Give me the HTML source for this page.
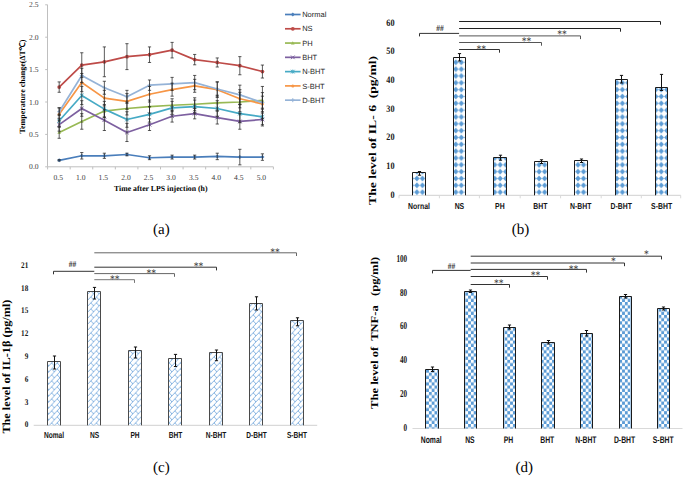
<!DOCTYPE html>
<html><head><meta charset="utf-8"><style>
html,body{margin:0;padding:0;background:#fff;}
svg{display:block;}
text{white-space:pre;text-rendering:geometricPrecision;}
</style></head><body>
<svg width="685" height="477" viewBox="0 0 685 477">
<defs>
<pattern id="pdia" patternUnits="userSpaceOnUse" x="-2.427" y="-2.6275" width="5.554" height="6.835">
<rect width="5.554" height="6.835" fill="#fff"/>
<path d="M0.1,3.4175L2.777,0.4L5.454,3.4175L2.777,6.435Z" fill="#5b9bd5"/>
</pattern>
<pattern id="pchk" patternUnits="userSpaceOnUse" x="3.3" y="0.3" width="5.6" height="6.42">
<rect width="5.6" height="6.42" fill="#fff"/>
<rect x="0" y="0" width="2.8" height="3.21" fill="#5b9bd5"/>
<rect x="2.8" y="3.21" width="2.8" height="3.21" fill="#5b9bd5"/>
</pattern>
<pattern id="pbrk" patternUnits="userSpaceOnUse" x="1.200" y="2.800" width="5.6" height="6.0">
<rect width="5.6" height="6.0" fill="#fff"/>
<path d="M-5.600,0.000L0.000,-6.000M-5.600,-6.000L-2.800,-3.000M-5.600,6.000L0.000,0.000M-5.600,0.000L-2.800,3.000M-5.600,12.000L0.000,6.000M-5.600,6.000L-2.800,9.000M0.000,0.000L5.600,-6.000M0.000,-6.000L2.800,-3.000M0.000,6.000L5.600,0.000M0.000,0.000L2.800,3.000M0.000,12.000L5.600,6.000M0.000,6.000L2.800,9.000M5.600,0.000L11.200,-6.000M5.600,-6.000L8.400,-3.000M5.600,6.000L11.200,0.000M5.600,0.000L8.400,3.000M5.600,12.000L11.200,6.000M5.600,6.000L8.400,9.000" stroke="#6fa5dc" stroke-width="0.85" fill="none"/>
</pattern>
</defs>
<rect width="685" height="477" fill="#fff"/>
<line x1="47.50" y1="4.80" x2="47.50" y2="166.80" stroke="#bfbfbf" stroke-width="1" />
<line x1="47.60" y1="166.80" x2="273.40" y2="166.80" stroke="#bfbfbf" stroke-width="1" />
<line x1="45.20" y1="166.80" x2="47.60" y2="166.80" stroke="#bfbfbf" stroke-width="1" />
<line x1="45.20" y1="134.40" x2="47.60" y2="134.40" stroke="#bfbfbf" stroke-width="1" />
<line x1="45.20" y1="102.00" x2="47.60" y2="102.00" stroke="#bfbfbf" stroke-width="1" />
<line x1="45.20" y1="69.60" x2="47.60" y2="69.60" stroke="#bfbfbf" stroke-width="1" />
<line x1="45.20" y1="37.20" x2="47.60" y2="37.20" stroke="#bfbfbf" stroke-width="1" />
<line x1="45.20" y1="4.80" x2="47.60" y2="4.80" stroke="#bfbfbf" stroke-width="1" />
<line x1="47.60" y1="166.80" x2="47.60" y2="169.40" stroke="#bfbfbf" stroke-width="1" />
<line x1="70.18" y1="166.80" x2="70.18" y2="169.40" stroke="#bfbfbf" stroke-width="1" />
<line x1="92.76" y1="166.80" x2="92.76" y2="169.40" stroke="#bfbfbf" stroke-width="1" />
<line x1="115.34" y1="166.80" x2="115.34" y2="169.40" stroke="#bfbfbf" stroke-width="1" />
<line x1="137.92" y1="166.80" x2="137.92" y2="169.40" stroke="#bfbfbf" stroke-width="1" />
<line x1="160.50" y1="166.80" x2="160.50" y2="169.40" stroke="#bfbfbf" stroke-width="1" />
<line x1="183.08" y1="166.80" x2="183.08" y2="169.40" stroke="#bfbfbf" stroke-width="1" />
<line x1="205.66" y1="166.80" x2="205.66" y2="169.40" stroke="#bfbfbf" stroke-width="1" />
<line x1="228.24" y1="166.80" x2="228.24" y2="169.40" stroke="#bfbfbf" stroke-width="1" />
<line x1="250.82" y1="166.80" x2="250.82" y2="169.40" stroke="#bfbfbf" stroke-width="1" />
<line x1="273.40" y1="166.80" x2="273.40" y2="169.40" stroke="#bfbfbf" stroke-width="1" />
<text transform="translate(38.60,169.30)" font-family='"Liberation Serif", serif' font-size="7.6" font-weight="normal" text-anchor="end" fill="#404040" >0.0</text>
<text transform="translate(38.60,136.90)" font-family='"Liberation Serif", serif' font-size="7.6" font-weight="normal" text-anchor="end" fill="#404040" >0.5</text>
<text transform="translate(38.60,104.50)" font-family='"Liberation Serif", serif' font-size="7.6" font-weight="normal" text-anchor="end" fill="#404040" >1.0</text>
<text transform="translate(38.60,72.10)" font-family='"Liberation Serif", serif' font-size="7.6" font-weight="normal" text-anchor="end" fill="#404040" >1.5</text>
<text transform="translate(38.60,39.70)" font-family='"Liberation Serif", serif' font-size="7.6" font-weight="normal" text-anchor="end" fill="#404040" >2.0</text>
<text transform="translate(38.60,7.30)" font-family='"Liberation Serif", serif' font-size="7.6" font-weight="normal" text-anchor="end" fill="#404040" >2.5</text>
<text transform="translate(58.20,179.60)" font-family='"Liberation Serif", serif' font-size="7.6" font-weight="normal" text-anchor="middle" fill="#404040" >0.5</text>
<text transform="translate(80.78,179.60)" font-family='"Liberation Serif", serif' font-size="7.6" font-weight="normal" text-anchor="middle" fill="#404040" >1.0</text>
<text transform="translate(103.36,179.60)" font-family='"Liberation Serif", serif' font-size="7.6" font-weight="normal" text-anchor="middle" fill="#404040" >1.5</text>
<text transform="translate(125.94,179.60)" font-family='"Liberation Serif", serif' font-size="7.6" font-weight="normal" text-anchor="middle" fill="#404040" >2.0</text>
<text transform="translate(148.52,179.60)" font-family='"Liberation Serif", serif' font-size="7.6" font-weight="normal" text-anchor="middle" fill="#404040" >2.5</text>
<text transform="translate(171.10,179.60)" font-family='"Liberation Serif", serif' font-size="7.6" font-weight="normal" text-anchor="middle" fill="#404040" >3.0</text>
<text transform="translate(193.68,179.60)" font-family='"Liberation Serif", serif' font-size="7.6" font-weight="normal" text-anchor="middle" fill="#404040" >3.5</text>
<text transform="translate(216.26,179.60)" font-family='"Liberation Serif", serif' font-size="7.6" font-weight="normal" text-anchor="middle" fill="#404040" >4.0</text>
<text transform="translate(238.84,179.60)" font-family='"Liberation Serif", serif' font-size="7.6" font-weight="normal" text-anchor="middle" fill="#404040" >4.5</text>
<text transform="translate(261.42,179.60)" font-family='"Liberation Serif", serif' font-size="7.6" font-weight="normal" text-anchor="middle" fill="#404040" >5.0</text>
<text transform="translate(160.75,191.40)" font-family='"Liberation Serif", serif' font-size="7.8" font-weight="bold" text-anchor="middle" fill="#000" textLength="93.5" lengthAdjust="spacingAndGlyphs">Time after LPS injection (h)</text>
<text transform="translate(24.60,86.60) rotate(-90)" font-family='"Liberation Serif", serif' font-size="8.0" font-weight="bold" text-anchor="middle" fill="#000" textLength="94" lengthAdjust="spacingAndGlyphs">Temperature change(ΔT℃)</text>
<polyline points="59.20,160.32 81.78,155.78 104.36,155.78 126.94,154.49 149.52,157.73 172.10,157.08 194.68,157.08 217.26,156.43 239.84,157.08 262.42,157.08" fill="none" stroke="#4a7ebb" stroke-width="1.7" stroke-linejoin="round"/>
<path d="M57.20,160.32L59.20,158.32L61.20,160.32L59.20,162.32Z" fill="#4a7ebb"/>
<path d="M79.78,155.78L81.78,153.78L83.78,155.78L81.78,157.78Z" fill="#4a7ebb"/>
<path d="M102.36,155.78L104.36,153.78L106.36,155.78L104.36,157.78Z" fill="#4a7ebb"/>
<path d="M124.94,154.49L126.94,152.49L128.94,154.49L126.94,156.49Z" fill="#4a7ebb"/>
<path d="M147.52,157.73L149.52,155.73L151.52,157.73L149.52,159.73Z" fill="#4a7ebb"/>
<path d="M170.10,157.08L172.10,155.08L174.10,157.08L172.10,159.08Z" fill="#4a7ebb"/>
<path d="M192.68,157.08L194.68,155.08L196.68,157.08L194.68,159.08Z" fill="#4a7ebb"/>
<path d="M215.26,156.43L217.26,154.43L219.26,156.43L217.26,158.43Z" fill="#4a7ebb"/>
<path d="M237.84,157.08L239.84,155.08L241.84,157.08L239.84,159.08Z" fill="#4a7ebb"/>
<path d="M260.42,157.08L262.42,155.08L264.42,157.08L262.42,159.08Z" fill="#4a7ebb"/>
<polyline points="59.20,87.10 81.78,65.06 104.36,61.82 126.94,56.64 149.52,54.70 172.10,50.16 194.68,59.62 217.26,62.47 239.84,65.71 262.42,71.54" fill="none" stroke="#be4b48" stroke-width="1.7" stroke-linejoin="round"/>
<circle cx="59.20" cy="87.10" r="1.9" fill="#be4b48"/>
<circle cx="81.78" cy="65.06" r="1.9" fill="#be4b48"/>
<circle cx="104.36" cy="61.82" r="1.9" fill="#be4b48"/>
<circle cx="126.94" cy="56.64" r="1.9" fill="#be4b48"/>
<circle cx="149.52" cy="54.70" r="1.9" fill="#be4b48"/>
<circle cx="172.10" cy="50.16" r="1.9" fill="#be4b48"/>
<circle cx="194.68" cy="59.62" r="1.9" fill="#be4b48"/>
<circle cx="217.26" cy="62.47" r="1.9" fill="#be4b48"/>
<circle cx="239.84" cy="65.71" r="1.9" fill="#be4b48"/>
<circle cx="262.42" cy="71.54" r="1.9" fill="#be4b48"/>
<polyline points="59.20,132.46 81.78,121.44 104.36,111.07 126.94,108.48 149.52,106.54 172.10,105.24 194.68,104.27 217.26,102.97 239.84,102.00 262.42,100.38" fill="none" stroke="#98b954" stroke-width="1.7" stroke-linejoin="round"/>
<path d="M57.40,133.86L59.20,130.66L61.00,133.86Z" fill="#98b954"/>
<path d="M79.98,122.84L81.78,119.64L83.58,122.84Z" fill="#98b954"/>
<path d="M102.56,112.47L104.36,109.27L106.16,112.47Z" fill="#98b954"/>
<path d="M125.14,109.88L126.94,106.68L128.74,109.88Z" fill="#98b954"/>
<path d="M147.72,107.94L149.52,104.74L151.32,107.94Z" fill="#98b954"/>
<path d="M170.30,106.64L172.10,103.44L173.90,106.64Z" fill="#98b954"/>
<path d="M192.88,105.67L194.68,102.47L196.48,105.67Z" fill="#98b954"/>
<path d="M215.46,104.37L217.26,101.17L219.06,104.37Z" fill="#98b954"/>
<path d="M238.04,103.40L239.84,100.20L241.64,103.40Z" fill="#98b954"/>
<path d="M260.62,101.78L262.42,98.58L264.22,101.78Z" fill="#98b954"/>
<polyline points="59.20,124.68 81.78,108.48 104.36,120.14 126.94,132.46 149.52,124.68 172.10,116.26 194.68,113.66 217.26,117.55 239.84,121.44 262.42,119.50" fill="none" stroke="#7d60a0" stroke-width="1.7" stroke-linejoin="round"/>
<path d="M57.40,122.88L61.00,126.48M57.40,126.48L61.00,122.88" stroke="#7d60a0" stroke-width="1"/>
<path d="M79.98,106.68L83.58,110.28M79.98,110.28L83.58,106.68" stroke="#7d60a0" stroke-width="1"/>
<path d="M102.56,118.34L106.16,121.94M102.56,121.94L106.16,118.34" stroke="#7d60a0" stroke-width="1"/>
<path d="M125.14,130.66L128.74,134.26M125.14,134.26L128.74,130.66" stroke="#7d60a0" stroke-width="1"/>
<path d="M147.72,122.88L151.32,126.48M147.72,126.48L151.32,122.88" stroke="#7d60a0" stroke-width="1"/>
<path d="M170.30,114.46L173.90,118.06M170.30,118.06L173.90,114.46" stroke="#7d60a0" stroke-width="1"/>
<path d="M192.88,111.86L196.48,115.46M192.88,115.46L196.48,111.86" stroke="#7d60a0" stroke-width="1"/>
<path d="M215.46,115.75L219.06,119.35M215.46,119.35L219.06,115.75" stroke="#7d60a0" stroke-width="1"/>
<path d="M238.04,119.64L241.64,123.24M238.04,123.24L241.64,119.64" stroke="#7d60a0" stroke-width="1"/>
<path d="M260.62,117.70L264.22,121.30M260.62,121.30L264.22,117.70" stroke="#7d60a0" stroke-width="1"/>
<polyline points="59.20,120.79 81.78,95.52 104.36,109.13 126.94,119.50 149.52,114.31 172.10,107.83 194.68,106.54 217.26,108.48 239.84,113.66 262.42,116.90" fill="none" stroke="#46aac5" stroke-width="1.7" stroke-linejoin="round"/>
<path d="M57.40,118.99L61.00,122.59M57.40,122.59L61.00,118.99M59.20,118.79L59.20,122.79" stroke="#46aac5" stroke-width="1"/>
<path d="M79.98,93.72L83.58,97.32M79.98,97.32L83.58,93.72M81.78,93.52L81.78,97.52" stroke="#46aac5" stroke-width="1"/>
<path d="M102.56,107.33L106.16,110.93M102.56,110.93L106.16,107.33M104.36,107.13L104.36,111.13" stroke="#46aac5" stroke-width="1"/>
<path d="M125.14,117.70L128.74,121.30M125.14,121.30L128.74,117.70M126.94,117.50L126.94,121.50" stroke="#46aac5" stroke-width="1"/>
<path d="M147.72,112.51L151.32,116.11M147.72,116.11L151.32,112.51M149.52,112.31L149.52,116.31" stroke="#46aac5" stroke-width="1"/>
<path d="M170.30,106.03L173.90,109.63M170.30,109.63L173.90,106.03M172.10,105.83L172.10,109.83" stroke="#46aac5" stroke-width="1"/>
<path d="M192.88,104.74L196.48,108.34M192.88,108.34L196.48,104.74M194.68,104.54L194.68,108.54" stroke="#46aac5" stroke-width="1"/>
<path d="M215.46,106.68L219.06,110.28M215.46,110.28L219.06,106.68M217.26,106.48L217.26,110.48" stroke="#46aac5" stroke-width="1"/>
<path d="M238.04,111.86L241.64,115.46M238.04,115.46L241.64,111.86M239.84,111.66L239.84,115.66" stroke="#46aac5" stroke-width="1"/>
<path d="M260.62,115.10L264.22,118.70M260.62,118.70L264.22,115.10M262.42,114.90L262.42,118.90" stroke="#46aac5" stroke-width="1"/>
<polyline points="59.20,114.31 81.78,82.56 104.36,98.11 126.94,101.35 149.52,94.22 172.10,89.69 194.68,85.80 217.26,89.69 239.84,98.76 262.42,103.94" fill="none" stroke="#f79646" stroke-width="1.7" stroke-linejoin="round"/>
<circle cx="59.20" cy="114.31" r="1.5" fill="#f79646"/>
<circle cx="81.78" cy="82.56" r="1.5" fill="#f79646"/>
<circle cx="104.36" cy="98.11" r="1.5" fill="#f79646"/>
<circle cx="126.94" cy="101.35" r="1.5" fill="#f79646"/>
<circle cx="149.52" cy="94.22" r="1.5" fill="#f79646"/>
<circle cx="172.10" cy="89.69" r="1.5" fill="#f79646"/>
<circle cx="194.68" cy="85.80" r="1.5" fill="#f79646"/>
<circle cx="217.26" cy="89.69" r="1.5" fill="#f79646"/>
<circle cx="239.84" cy="98.76" r="1.5" fill="#f79646"/>
<circle cx="262.42" cy="103.94" r="1.5" fill="#f79646"/>
<polyline points="59.20,111.72 81.78,75.43 104.36,87.74 126.94,96.82 149.52,85.15 172.10,83.86 194.68,82.56 217.26,89.04 239.84,94.87 262.42,102.65" fill="none" stroke="#95b3d7" stroke-width="1.7" stroke-linejoin="round"/>
<path d="M57.20,111.72L61.20,111.72M59.20,109.72L59.20,113.72" stroke="#95b3d7" stroke-width="1"/>
<path d="M79.78,75.43L83.78,75.43M81.78,73.43L81.78,77.43" stroke="#95b3d7" stroke-width="1"/>
<path d="M102.36,87.74L106.36,87.74M104.36,85.74L104.36,89.74" stroke="#95b3d7" stroke-width="1"/>
<path d="M124.94,96.82L128.94,96.82M126.94,94.82L126.94,98.82" stroke="#95b3d7" stroke-width="1"/>
<path d="M147.52,85.15L151.52,85.15M149.52,83.15L149.52,87.15" stroke="#95b3d7" stroke-width="1"/>
<path d="M170.10,83.86L174.10,83.86M172.10,81.86L172.10,85.86" stroke="#95b3d7" stroke-width="1"/>
<path d="M192.68,82.56L196.68,82.56M194.68,80.56L194.68,84.56" stroke="#95b3d7" stroke-width="1"/>
<path d="M215.26,89.04L219.26,89.04M217.26,87.04L217.26,91.04" stroke="#95b3d7" stroke-width="1"/>
<path d="M237.84,94.87L241.84,94.87M239.84,92.87L239.84,96.87" stroke="#95b3d7" stroke-width="1"/>
<path d="M260.42,102.65L264.42,102.65M262.42,100.65L262.42,104.65" stroke="#95b3d7" stroke-width="1"/>
<path d="M59.20,159.67V160.97M57.60,159.67H60.80M57.60,160.97H60.80" stroke="#262626" stroke-width="0.75" fill="none"/>
<path d="M81.78,152.54V159.02M80.18,152.54H83.38M80.18,159.02H83.38" stroke="#262626" stroke-width="0.75" fill="none"/>
<path d="M104.36,153.19V158.38M102.76,153.19H105.96M102.76,158.38H105.96" stroke="#262626" stroke-width="0.75" fill="none"/>
<path d="M126.94,153.19V155.78M125.34,153.19H128.54M125.34,155.78H128.54" stroke="#262626" stroke-width="0.75" fill="none"/>
<path d="M149.52,155.78V159.67M147.92,155.78H151.12M147.92,159.67H151.12" stroke="#262626" stroke-width="0.75" fill="none"/>
<path d="M172.10,155.14V159.02M170.50,155.14H173.70M170.50,159.02H173.70" stroke="#262626" stroke-width="0.75" fill="none"/>
<path d="M194.68,155.14V159.02M193.08,155.14H196.28M193.08,159.02H196.28" stroke="#262626" stroke-width="0.75" fill="none"/>
<path d="M217.26,153.19V159.67M215.66,153.19H218.86M215.66,159.67H218.86" stroke="#262626" stroke-width="0.75" fill="none"/>
<path d="M239.84,149.30V164.86M238.24,149.30H241.44M238.24,164.86H241.44" stroke="#262626" stroke-width="0.75" fill="none"/>
<path d="M262.42,153.84V160.32M260.82,153.84H264.02M260.82,160.32H264.02" stroke="#262626" stroke-width="0.75" fill="none"/>
<path d="M59.20,81.91V92.28M57.60,81.91H60.80M57.60,92.28H60.80" stroke="#262626" stroke-width="0.75" fill="none"/>
<path d="M81.78,52.75V77.38M80.18,52.75H83.38M80.18,77.38H83.38" stroke="#262626" stroke-width="0.75" fill="none"/>
<path d="M104.36,46.92V76.73M102.76,46.92H105.96M102.76,76.73H105.96" stroke="#262626" stroke-width="0.75" fill="none"/>
<path d="M126.94,43.68V69.60M125.34,43.68H128.54M125.34,69.60H128.54" stroke="#262626" stroke-width="0.75" fill="none"/>
<path d="M149.52,46.92V62.47M147.92,46.92H151.12M147.92,62.47H151.12" stroke="#262626" stroke-width="0.75" fill="none"/>
<path d="M172.10,42.38V57.94M170.50,42.38H173.70M170.50,57.94H173.70" stroke="#262626" stroke-width="0.75" fill="none"/>
<path d="M194.68,54.44V64.80M193.08,54.44H196.28M193.08,64.80H196.28" stroke="#262626" stroke-width="0.75" fill="none"/>
<path d="M217.26,57.94V67.01M215.66,57.94H218.86M215.66,67.01H218.86" stroke="#262626" stroke-width="0.75" fill="none"/>
<path d="M239.84,56.64V74.78M238.24,56.64H241.44M238.24,74.78H241.44" stroke="#262626" stroke-width="0.75" fill="none"/>
<path d="M262.42,65.06V78.02M260.82,65.06H264.02M260.82,78.02H264.02" stroke="#262626" stroke-width="0.75" fill="none"/>
<path d="M59.20,126.62V138.29M57.60,126.62H60.80M57.60,138.29H60.80" stroke="#262626" stroke-width="0.75" fill="none"/>
<path d="M81.78,113.66V129.22M80.18,113.66H83.38M80.18,129.22H83.38" stroke="#262626" stroke-width="0.75" fill="none"/>
<path d="M104.36,104.59V117.55M102.76,104.59H105.96M102.76,117.55H105.96" stroke="#262626" stroke-width="0.75" fill="none"/>
<path d="M126.94,102.00V114.96M125.34,102.00H128.54M125.34,114.96H128.54" stroke="#262626" stroke-width="0.75" fill="none"/>
<path d="M149.52,100.06V113.02M147.92,100.06H151.12M147.92,113.02H151.12" stroke="#262626" stroke-width="0.75" fill="none"/>
<path d="M172.10,98.76V111.72M170.50,98.76H173.70M170.50,111.72H173.70" stroke="#262626" stroke-width="0.75" fill="none"/>
<path d="M194.68,97.79V110.75M193.08,97.79H196.28M193.08,110.75H196.28" stroke="#262626" stroke-width="0.75" fill="none"/>
<path d="M217.26,95.20V110.75M215.66,95.20H218.86M215.66,110.75H218.86" stroke="#262626" stroke-width="0.75" fill="none"/>
<path d="M239.84,92.28V111.72M238.24,92.28H241.44M238.24,111.72H241.44" stroke="#262626" stroke-width="0.75" fill="none"/>
<path d="M262.42,92.60V108.16M260.82,92.60H264.02M260.82,108.16H264.02" stroke="#262626" stroke-width="0.75" fill="none"/>
<path d="M59.20,118.20V131.16M57.60,118.20H60.80M57.60,131.16H60.80" stroke="#262626" stroke-width="0.75" fill="none"/>
<path d="M81.78,100.70V116.26M80.18,100.70H83.38M80.18,116.26H83.38" stroke="#262626" stroke-width="0.75" fill="none"/>
<path d="M104.36,109.78V130.51M102.76,109.78H105.96M102.76,130.51H105.96" stroke="#262626" stroke-width="0.75" fill="none"/>
<path d="M126.94,123.38V141.53M125.34,123.38H128.54M125.34,141.53H128.54" stroke="#262626" stroke-width="0.75" fill="none"/>
<path d="M149.52,118.85V130.51M147.92,118.85H151.12M147.92,130.51H151.12" stroke="#262626" stroke-width="0.75" fill="none"/>
<path d="M172.10,110.42V122.09M170.50,110.42H173.70M170.50,122.09H173.70" stroke="#262626" stroke-width="0.75" fill="none"/>
<path d="M194.68,108.48V118.85M193.08,108.48H196.28M193.08,118.85H196.28" stroke="#262626" stroke-width="0.75" fill="none"/>
<path d="M217.26,111.07V124.03M215.66,111.07H218.86M215.66,124.03H218.86" stroke="#262626" stroke-width="0.75" fill="none"/>
<path d="M239.84,113.66V129.22M238.24,113.66H241.44M238.24,129.22H241.44" stroke="#262626" stroke-width="0.75" fill="none"/>
<path d="M262.42,113.02V125.98M260.82,113.02H264.02M260.82,125.98H264.02" stroke="#262626" stroke-width="0.75" fill="none"/>
<path d="M59.20,114.31V127.27M57.60,114.31H60.80M57.60,127.27H60.80" stroke="#262626" stroke-width="0.75" fill="none"/>
<path d="M81.78,86.45V104.59M80.18,86.45H83.38M80.18,104.59H83.38" stroke="#262626" stroke-width="0.75" fill="none"/>
<path d="M104.36,101.35V116.90M102.76,101.35H105.96M102.76,116.90H105.96" stroke="#262626" stroke-width="0.75" fill="none"/>
<path d="M126.94,111.72V127.27M125.34,111.72H128.54M125.34,127.27H128.54" stroke="#262626" stroke-width="0.75" fill="none"/>
<path d="M149.52,106.54V122.09M147.92,106.54H151.12M147.92,122.09H151.12" stroke="#262626" stroke-width="0.75" fill="none"/>
<path d="M172.10,101.35V114.31M170.50,101.35H173.70M170.50,114.31H173.70" stroke="#262626" stroke-width="0.75" fill="none"/>
<path d="M194.68,100.06V113.02M193.08,100.06H196.28M193.08,113.02H196.28" stroke="#262626" stroke-width="0.75" fill="none"/>
<path d="M217.26,100.70V116.26M215.66,100.70H218.86M215.66,116.26H218.86" stroke="#262626" stroke-width="0.75" fill="none"/>
<path d="M239.84,104.59V122.74M238.24,104.59H241.44M238.24,122.74H241.44" stroke="#262626" stroke-width="0.75" fill="none"/>
<path d="M262.42,109.13V124.68M260.82,109.13H264.02M260.82,124.68H264.02" stroke="#262626" stroke-width="0.75" fill="none"/>
<path d="M59.20,107.83V120.79M57.60,107.83H60.80M57.60,120.79H60.80" stroke="#262626" stroke-width="0.75" fill="none"/>
<path d="M81.78,73.49V91.63M80.18,73.49H83.38M80.18,91.63H83.38" stroke="#262626" stroke-width="0.75" fill="none"/>
<path d="M104.36,90.34V105.89M102.76,90.34H105.96M102.76,105.89H105.96" stroke="#262626" stroke-width="0.75" fill="none"/>
<path d="M126.94,93.58V109.13M125.34,93.58H128.54M125.34,109.13H128.54" stroke="#262626" stroke-width="0.75" fill="none"/>
<path d="M149.52,86.45V102.00M147.92,86.45H151.12M147.92,102.00H151.12" stroke="#262626" stroke-width="0.75" fill="none"/>
<path d="M172.10,83.21V96.17M170.50,83.21H173.70M170.50,96.17H173.70" stroke="#262626" stroke-width="0.75" fill="none"/>
<path d="M194.68,79.32V92.28M193.08,79.32H196.28M193.08,92.28H196.28" stroke="#262626" stroke-width="0.75" fill="none"/>
<path d="M217.26,81.91V97.46M215.66,81.91H218.86M215.66,97.46H218.86" stroke="#262626" stroke-width="0.75" fill="none"/>
<path d="M239.84,89.69V107.83M238.24,89.69H241.44M238.24,107.83H241.44" stroke="#262626" stroke-width="0.75" fill="none"/>
<path d="M262.42,96.17V111.72M260.82,96.17H264.02M260.82,111.72H264.02" stroke="#262626" stroke-width="0.75" fill="none"/>
<path d="M59.20,107.83V115.61M57.60,107.83H60.80M57.60,115.61H60.80" stroke="#262626" stroke-width="0.75" fill="none"/>
<path d="M81.78,68.30V82.56M80.18,68.30H83.38M80.18,82.56H83.38" stroke="#262626" stroke-width="0.75" fill="none"/>
<path d="M104.36,81.26V94.22M102.76,81.26H105.96M102.76,94.22H105.96" stroke="#262626" stroke-width="0.75" fill="none"/>
<path d="M126.94,90.34V103.30M125.34,90.34H128.54M125.34,103.30H128.54" stroke="#262626" stroke-width="0.75" fill="none"/>
<path d="M149.52,79.97V90.34M147.92,79.97H151.12M147.92,90.34H151.12" stroke="#262626" stroke-width="0.75" fill="none"/>
<path d="M172.10,77.38V90.34M170.50,77.38H173.70M170.50,90.34H173.70" stroke="#262626" stroke-width="0.75" fill="none"/>
<path d="M194.68,75.43V89.69M193.08,75.43H196.28M193.08,89.69H196.28" stroke="#262626" stroke-width="0.75" fill="none"/>
<path d="M217.26,81.91V96.17M215.66,81.91H218.86M215.66,96.17H218.86" stroke="#262626" stroke-width="0.75" fill="none"/>
<path d="M239.84,85.15V104.59M238.24,85.15H241.44M238.24,104.59H241.44" stroke="#262626" stroke-width="0.75" fill="none"/>
<path d="M262.42,86.45V118.85M260.82,86.45H264.02M260.82,118.85H264.02" stroke="#262626" stroke-width="0.75" fill="none"/>
<line x1="285.00" y1="14.50" x2="300.60" y2="14.50" stroke="#4a7ebb" stroke-width="1.7" />
<path d="M290.80,14.50L292.80,12.50L294.80,14.50L292.80,16.50Z" fill="#4a7ebb"/>
<text transform="translate(302.20,17.20)" font-family='"Liberation Sans", sans-serif' font-size="7.5" font-weight="normal" text-anchor="start" fill="#262626" >Normal</text>
<line x1="285.00" y1="28.78" x2="300.60" y2="28.78" stroke="#be4b48" stroke-width="1.7" />
<circle cx="292.80" cy="28.78" r="1.9" fill="#be4b48"/>
<text transform="translate(302.20,31.48)" font-family='"Liberation Sans", sans-serif' font-size="7.5" font-weight="normal" text-anchor="start" fill="#262626" >NS</text>
<line x1="285.00" y1="43.06" x2="300.60" y2="43.06" stroke="#98b954" stroke-width="1.7" />
<path d="M291.00,44.46L292.80,41.26L294.60,44.46Z" fill="#98b954"/>
<text transform="translate(302.20,45.76)" font-family='"Liberation Sans", sans-serif' font-size="7.5" font-weight="normal" text-anchor="start" fill="#262626" >PH</text>
<line x1="285.00" y1="57.34" x2="300.60" y2="57.34" stroke="#7d60a0" stroke-width="1.7" />
<path d="M291.00,55.54L294.60,59.14M291.00,59.14L294.60,55.54" stroke="#7d60a0" stroke-width="1"/>
<text transform="translate(302.20,60.04)" font-family='"Liberation Sans", sans-serif' font-size="7.5" font-weight="normal" text-anchor="start" fill="#262626" >BHT</text>
<line x1="285.00" y1="71.62" x2="300.60" y2="71.62" stroke="#46aac5" stroke-width="1.7" />
<path d="M291.00,69.82L294.60,73.42M291.00,73.42L294.60,69.82M292.80,69.62L292.80,73.62" stroke="#46aac5" stroke-width="1"/>
<text transform="translate(302.20,74.32)" font-family='"Liberation Sans", sans-serif' font-size="7.5" font-weight="normal" text-anchor="start" fill="#262626" >N-BHT</text>
<line x1="285.00" y1="85.90" x2="300.60" y2="85.90" stroke="#f79646" stroke-width="1.7" />
<circle cx="292.80" cy="85.90" r="1.5" fill="#f79646"/>
<text transform="translate(302.20,88.60)" font-family='"Liberation Sans", sans-serif' font-size="7.5" font-weight="normal" text-anchor="start" fill="#262626" >S-BHT</text>
<line x1="285.00" y1="100.18" x2="300.60" y2="100.18" stroke="#95b3d7" stroke-width="1.7" />
<path d="M290.80,100.18L294.80,100.18M292.80,98.18L292.80,102.18" stroke="#95b3d7" stroke-width="1"/>
<text transform="translate(302.20,102.88)" font-family='"Liberation Sans", sans-serif' font-size="7.5" font-weight="normal" text-anchor="start" fill="#262626" >D-BHT</text>
<text transform="translate(161.40,233.50)" font-family='"Liberation Serif", serif' font-size="15" font-weight="normal" text-anchor="middle" fill="#000" >(a)</text>
<line x1="399.00" y1="195.30" x2="680.70" y2="195.30" stroke="#d9d9d9" stroke-width="1.2" />
<line x1="399.00" y1="195.30" x2="399.00" y2="198.30" stroke="#d9d9d9" stroke-width="1" />
<line x1="439.40" y1="195.30" x2="439.40" y2="198.30" stroke="#d9d9d9" stroke-width="1" />
<line x1="479.40" y1="195.30" x2="479.40" y2="198.30" stroke="#d9d9d9" stroke-width="1" />
<line x1="520.20" y1="195.30" x2="520.20" y2="198.30" stroke="#d9d9d9" stroke-width="1" />
<line x1="560.60" y1="195.30" x2="560.60" y2="198.30" stroke="#d9d9d9" stroke-width="1" />
<line x1="601.20" y1="195.30" x2="601.20" y2="198.30" stroke="#d9d9d9" stroke-width="1" />
<line x1="641.30" y1="195.30" x2="641.30" y2="198.30" stroke="#d9d9d9" stroke-width="1" />
<line x1="680.70" y1="195.30" x2="680.70" y2="198.30" stroke="#d9d9d9" stroke-width="1" />
<text transform="translate(394.50,197.78) scale(0.840,1)" font-family='"Liberation Serif", serif' font-size="9.8" font-weight="bold" text-anchor="end" fill="#1a1a1a" >0</text>
<text transform="translate(394.50,169.08) scale(0.840,1)" font-family='"Liberation Serif", serif' font-size="9.8" font-weight="bold" text-anchor="end" fill="#1a1a1a" >10</text>
<text transform="translate(394.50,140.38) scale(0.840,1)" font-family='"Liberation Serif", serif' font-size="9.8" font-weight="bold" text-anchor="end" fill="#1a1a1a" >20</text>
<text transform="translate(394.50,111.68) scale(0.840,1)" font-family='"Liberation Serif", serif' font-size="9.8" font-weight="bold" text-anchor="end" fill="#1a1a1a" >30</text>
<text transform="translate(394.50,82.98) scale(0.840,1)" font-family='"Liberation Serif", serif' font-size="9.8" font-weight="bold" text-anchor="end" fill="#1a1a1a" >40</text>
<text transform="translate(394.50,54.28) scale(0.840,1)" font-family='"Liberation Serif", serif' font-size="9.8" font-weight="bold" text-anchor="end" fill="#1a1a1a" >50</text>
<text transform="translate(394.50,25.58) scale(0.840,1)" font-family='"Liberation Serif", serif' font-size="9.8" font-weight="bold" text-anchor="end" fill="#1a1a1a" >60</text>
<rect x="412.50" y="172.50" width="13.00" height="22.80" fill="url(#pdia)"/>
<path d="M412.50,195.30V172.50H425.50V195.30" fill="none" stroke="#1a1a1a" stroke-width="1"/>
<rect x="453.50" y="57.50" width="12.00" height="137.80" fill="url(#pdia)"/>
<path d="M453.50,195.30V57.50H465.50V195.30" fill="none" stroke="#1a1a1a" stroke-width="1"/>
<rect x="493.50" y="157.50" width="13.00" height="37.80" fill="url(#pdia)"/>
<path d="M493.50,195.30V157.50H506.50V195.30" fill="none" stroke="#1a1a1a" stroke-width="1"/>
<rect x="534.50" y="161.50" width="13.00" height="33.80" fill="url(#pdia)"/>
<path d="M534.50,195.30V161.50H547.50V195.30" fill="none" stroke="#1a1a1a" stroke-width="1"/>
<rect x="574.50" y="160.50" width="13.00" height="34.80" fill="url(#pdia)"/>
<path d="M574.50,195.30V160.50H587.50V195.30" fill="none" stroke="#1a1a1a" stroke-width="1"/>
<rect x="615.50" y="79.50" width="12.00" height="115.80" fill="url(#pdia)"/>
<path d="M615.50,195.30V79.50H627.50V195.30" fill="none" stroke="#1a1a1a" stroke-width="1"/>
<rect x="655.50" y="87.50" width="12.00" height="107.80" fill="url(#pdia)"/>
<path d="M655.50,195.30V87.50H667.50V195.30" fill="none" stroke="#1a1a1a" stroke-width="1"/>
<path d="M419.50,171.50V175.20M417.90,171.50H421.10M417.90,175.20H421.10" stroke="#111" stroke-width="1" fill="none"/>
<path d="M459.50,53.60V61.00M457.90,53.60H461.10M457.90,61.00H461.10" stroke="#111" stroke-width="1" fill="none"/>
<path d="M500.50,155.20V160.20M498.90,155.20H502.10M498.90,160.20H502.10" stroke="#111" stroke-width="1" fill="none"/>
<path d="M541.50,159.80V163.50M539.90,159.80H543.10M539.90,163.50H543.10" stroke="#111" stroke-width="1" fill="none"/>
<path d="M581.50,159.00V162.50M579.90,159.00H583.10M579.90,162.50H583.10" stroke="#111" stroke-width="1" fill="none"/>
<path d="M621.50,75.40V83.00M619.90,75.40H623.10M619.90,83.00H623.10" stroke="#111" stroke-width="1" fill="none"/>
<path d="M661.50,74.40V90.50M659.90,74.40H663.10M659.90,90.50H663.10" stroke="#111" stroke-width="1" fill="none"/>
<text transform="translate(419.00,209.20) scale(0.800,1)" font-family='"Liberation Sans", sans-serif' font-size="8.6" font-weight="bold" text-anchor="middle" fill="#141414" >Nornal</text>
<text transform="translate(459.43,209.20) scale(0.800,1)" font-family='"Liberation Sans", sans-serif' font-size="8.6" font-weight="bold" text-anchor="middle" fill="#141414" >NS</text>
<text transform="translate(499.86,209.20) scale(0.800,1)" font-family='"Liberation Sans", sans-serif' font-size="8.6" font-weight="bold" text-anchor="middle" fill="#141414" >PH</text>
<text transform="translate(540.29,209.20) scale(0.800,1)" font-family='"Liberation Sans", sans-serif' font-size="8.6" font-weight="bold" text-anchor="middle" fill="#141414" >BHT</text>
<text transform="translate(580.72,209.20) scale(0.800,1)" font-family='"Liberation Sans", sans-serif' font-size="8.6" font-weight="bold" text-anchor="middle" fill="#141414" >N-BHT</text>
<text transform="translate(621.15,209.20) scale(0.800,1)" font-family='"Liberation Sans", sans-serif' font-size="8.6" font-weight="bold" text-anchor="middle" fill="#141414" >D-BHT</text>
<text transform="translate(661.58,209.20) scale(0.800,1)" font-family='"Liberation Sans", sans-serif' font-size="8.6" font-weight="bold" text-anchor="middle" fill="#141414" >S-BHT</text>
<path d="M459.10,21.50H660.50V24.70" stroke="#222" stroke-width="1" fill="none"/>
<path d="M459.10,28.50H620.50V31.70" stroke="#222" stroke-width="1" fill="none"/>
<path d="M459.10,35.90H580.50V39.10" stroke="#555" stroke-width="1" fill="none"/>
<text transform="translate(562.00,37.90) scale(0.800,1)" font-family='"Liberation Serif", serif' font-size="12" font-weight="normal" text-anchor="middle" fill="#333" >**</text>
<path d="M459.10,42.50H541.50V45.70" stroke="#555" stroke-width="1" fill="none"/>
<text transform="translate(526.60,45.00) scale(0.800,1)" font-family='"Liberation Serif", serif' font-size="12" font-weight="normal" text-anchor="middle" fill="#333" >**</text>
<path d="M459.10,49.50H499.50V52.70" stroke="#333" stroke-width="1" fill="none"/>
<text transform="translate(481.20,52.80) scale(0.800,1)" font-family='"Liberation Serif", serif' font-size="12" font-weight="normal" text-anchor="middle" fill="#333" >**</text>
<path d="M419.50,36.40V33.40H459.10" stroke="#333" stroke-width="1" fill="none"/>
<text transform="translate(440.00,31.10) scale(0.850,1)" font-family='"Liberation Serif", serif' font-size="8.9" font-weight="bold" text-anchor="middle" fill="#333" >##</text>
<text transform="translate(376.20,130.40) rotate(-90)" font-family='"Liberation Serif", serif' font-size="10.5" font-weight="bold" text-anchor="middle" fill="#000" textLength="149" lengthAdjust="spacingAndGlyphs">The level of IL- 6  (pg/ml)</text>
<text transform="translate(520.50,233.50)" font-family='"Liberation Serif", serif' font-size="15" font-weight="normal" text-anchor="middle" fill="#000" >(b)</text>
<line x1="33.70" y1="425.30" x2="317.20" y2="425.30" stroke="#d9d9d9" stroke-width="1.2" />
<text transform="translate(28.30,427.30) scale(0.840,1)" font-family='"Liberation Serif", serif' font-size="8.6" font-weight="bold" text-anchor="end" fill="#1a1a1a" >0</text>
<text transform="translate(28.30,404.51) scale(0.840,1)" font-family='"Liberation Serif", serif' font-size="8.6" font-weight="bold" text-anchor="end" fill="#1a1a1a" >3</text>
<text transform="translate(28.30,381.73) scale(0.840,1)" font-family='"Liberation Serif", serif' font-size="8.6" font-weight="bold" text-anchor="end" fill="#1a1a1a" >6</text>
<text transform="translate(28.30,358.94) scale(0.840,1)" font-family='"Liberation Serif", serif' font-size="8.6" font-weight="bold" text-anchor="end" fill="#1a1a1a" >9</text>
<text transform="translate(28.30,336.16) scale(0.840,1)" font-family='"Liberation Serif", serif' font-size="8.6" font-weight="bold" text-anchor="end" fill="#1a1a1a" >12</text>
<text transform="translate(28.30,313.37) scale(0.840,1)" font-family='"Liberation Serif", serif' font-size="8.6" font-weight="bold" text-anchor="end" fill="#1a1a1a" >15</text>
<text transform="translate(28.30,290.59) scale(0.840,1)" font-family='"Liberation Serif", serif' font-size="8.6" font-weight="bold" text-anchor="end" fill="#1a1a1a" >18</text>
<text transform="translate(28.30,267.80) scale(0.840,1)" font-family='"Liberation Serif", serif' font-size="8.6" font-weight="bold" text-anchor="end" fill="#1a1a1a" >21</text>
<rect x="47.50" y="361.50" width="13.00" height="63.80" fill="url(#pbrk)"/>
<path d="M47.50,425.30V361.50H60.50V425.30" fill="none" stroke="#4a4a4a" stroke-width="1"/>
<rect x="87.50" y="291.50" width="13.00" height="133.80" fill="url(#pbrk)"/>
<path d="M87.50,425.30V291.50H100.50V425.30" fill="none" stroke="#4a4a4a" stroke-width="1"/>
<rect x="128.50" y="350.50" width="13.00" height="74.80" fill="url(#pbrk)"/>
<path d="M128.50,425.30V350.50H141.50V425.30" fill="none" stroke="#4a4a4a" stroke-width="1"/>
<rect x="168.50" y="358.50" width="13.00" height="66.80" fill="url(#pbrk)"/>
<path d="M168.50,425.30V358.50H181.50V425.30" fill="none" stroke="#4a4a4a" stroke-width="1"/>
<rect x="209.50" y="352.50" width="13.00" height="72.80" fill="url(#pbrk)"/>
<path d="M209.50,425.30V352.50H222.50V425.30" fill="none" stroke="#4a4a4a" stroke-width="1"/>
<rect x="249.50" y="303.50" width="13.00" height="121.80" fill="url(#pbrk)"/>
<path d="M249.50,425.30V303.50H262.50V425.30" fill="none" stroke="#4a4a4a" stroke-width="1"/>
<rect x="290.50" y="320.50" width="13.00" height="104.80" fill="url(#pbrk)"/>
<path d="M290.50,425.30V320.50H303.50V425.30" fill="none" stroke="#4a4a4a" stroke-width="1"/>
<path d="M54.50,356.00V369.00M52.90,356.00H56.10M52.90,369.00H56.10" stroke="#111" stroke-width="1" fill="none"/>
<path d="M94.50,287.40V299.00M92.90,287.40H96.10M92.90,299.00H96.10" stroke="#111" stroke-width="1" fill="none"/>
<path d="M135.50,347.00V358.00M133.90,347.00H137.10M133.90,358.00H137.10" stroke="#111" stroke-width="1" fill="none"/>
<path d="M175.50,354.40V366.50M173.90,354.40H177.10M173.90,366.50H177.10" stroke="#111" stroke-width="1" fill="none"/>
<path d="M216.50,350.00V360.70M214.90,350.00H218.10M214.90,360.70H218.10" stroke="#111" stroke-width="1" fill="none"/>
<path d="M256.50,296.80V310.00M254.90,296.80H258.10M254.90,310.00H258.10" stroke="#111" stroke-width="1" fill="none"/>
<path d="M297.50,317.80V325.80M295.90,317.80H299.10M295.90,325.80H299.10" stroke="#111" stroke-width="1" fill="none"/>
<text transform="translate(54.00,438.40) scale(0.750,1)" font-family='"Liberation Sans", sans-serif' font-size="8.8" font-weight="bold" text-anchor="middle" fill="#141414" >Nomal</text>
<text transform="translate(94.50,438.40) scale(0.750,1)" font-family='"Liberation Sans", sans-serif' font-size="8.8" font-weight="bold" text-anchor="middle" fill="#141414" >NS</text>
<text transform="translate(135.00,438.40) scale(0.750,1)" font-family='"Liberation Sans", sans-serif' font-size="8.8" font-weight="bold" text-anchor="middle" fill="#141414" >PH</text>
<text transform="translate(175.50,438.40) scale(0.750,1)" font-family='"Liberation Sans", sans-serif' font-size="8.8" font-weight="bold" text-anchor="middle" fill="#141414" >BHT</text>
<text transform="translate(216.00,438.40) scale(0.750,1)" font-family='"Liberation Sans", sans-serif' font-size="8.8" font-weight="bold" text-anchor="middle" fill="#141414" >N-BHT</text>
<text transform="translate(256.50,438.40) scale(0.750,1)" font-family='"Liberation Sans", sans-serif' font-size="8.8" font-weight="bold" text-anchor="middle" fill="#141414" >D-BHT</text>
<text transform="translate(297.00,438.40) scale(0.750,1)" font-family='"Liberation Sans", sans-serif' font-size="8.8" font-weight="bold" text-anchor="middle" fill="#141414" >S-BHT</text>
<path d="M94.30,252.80H296.50V256.00" stroke="#666" stroke-width="1" fill="none"/>
<text transform="translate(275.00,255.50) scale(0.800,1)" font-family='"Liberation Serif", serif' font-size="12" font-weight="normal" text-anchor="middle" fill="#333" >**</text>
<path d="M94.30,267.20H216.50V270.40" stroke="#333" stroke-width="1" fill="none"/>
<text transform="translate(198.60,270.20) scale(0.800,1)" font-family='"Liberation Serif", serif' font-size="12" font-weight="normal" text-anchor="middle" fill="#333" >**</text>
<path d="M94.30,273.60H174.50V276.80" stroke="#666" stroke-width="1" fill="none"/>
<text transform="translate(151.30,276.50) scale(0.800,1)" font-family='"Liberation Serif", serif' font-size="12" font-weight="normal" text-anchor="middle" fill="#333" >**</text>
<path d="M94.30,279.70H134.50V282.90" stroke="#777" stroke-width="1" fill="none"/>
<text transform="translate(114.80,282.50) scale(0.800,1)" font-family='"Liberation Serif", serif' font-size="12" font-weight="normal" text-anchor="middle" fill="#333" >**</text>
<path d="M53.50,274.30V271.30H94.30" stroke="#333" stroke-width="1" fill="none"/>
<text transform="translate(72.40,266.90) scale(0.850,1)" font-family='"Liberation Serif", serif' font-size="8.9" font-weight="bold" text-anchor="middle" fill="#333" >##</text>
<text transform="translate(10.30,366.60) rotate(-90)" font-family='"Liberation Serif", serif' font-size="11" font-weight="bold" text-anchor="middle" fill="#000" textLength="134" lengthAdjust="spacingAndGlyphs">The level of IL-1β (pg/ml)</text>
<text transform="translate(161.40,472.20)" font-family='"Liberation Serif", serif' font-size="15" font-weight="normal" text-anchor="middle" fill="#000" >(c)</text>
<line x1="412.50" y1="428.50" x2="682.50" y2="428.50" stroke="#d9d9d9" stroke-width="1.2" />
<text transform="translate(407.10,430.91) scale(0.680,1)" font-family='"Liberation Serif", serif' font-size="10.5" font-weight="bold" text-anchor="end" fill="#1a1a1a" >0</text>
<text transform="translate(407.10,397.07) scale(0.680,1)" font-family='"Liberation Serif", serif' font-size="10.5" font-weight="bold" text-anchor="end" fill="#1a1a1a" >20</text>
<text transform="translate(407.10,363.23) scale(0.680,1)" font-family='"Liberation Serif", serif' font-size="10.5" font-weight="bold" text-anchor="end" fill="#1a1a1a" >40</text>
<text transform="translate(407.10,329.39) scale(0.680,1)" font-family='"Liberation Serif", serif' font-size="10.5" font-weight="bold" text-anchor="end" fill="#1a1a1a" >60</text>
<text transform="translate(407.10,295.55) scale(0.680,1)" font-family='"Liberation Serif", serif' font-size="10.5" font-weight="bold" text-anchor="end" fill="#1a1a1a" >80</text>
<text transform="translate(407.10,261.71) scale(0.680,1)" font-family='"Liberation Serif", serif' font-size="10.5" font-weight="bold" text-anchor="end" fill="#1a1a1a" >100</text>
<rect x="425.50" y="369.50" width="13.00" height="59.00" fill="url(#pchk)"/>
<path d="M425.50,428.50V369.50H438.50V428.50" fill="none" stroke="#1a1a1a" stroke-width="1"/>
<rect x="464.50" y="291.50" width="12.00" height="137.00" fill="url(#pchk)"/>
<path d="M464.50,428.50V291.50H476.50V428.50" fill="none" stroke="#1a1a1a" stroke-width="1"/>
<rect x="503.50" y="327.50" width="12.00" height="101.00" fill="url(#pchk)"/>
<path d="M503.50,428.50V327.50H515.50V428.50" fill="none" stroke="#1a1a1a" stroke-width="1"/>
<rect x="541.50" y="342.50" width="13.00" height="86.00" fill="url(#pchk)"/>
<path d="M541.50,428.50V342.50H554.50V428.50" fill="none" stroke="#1a1a1a" stroke-width="1"/>
<rect x="580.50" y="333.50" width="12.00" height="95.00" fill="url(#pchk)"/>
<path d="M580.50,428.50V333.50H592.50V428.50" fill="none" stroke="#1a1a1a" stroke-width="1"/>
<rect x="619.50" y="296.50" width="12.00" height="132.00" fill="url(#pchk)"/>
<path d="M619.50,428.50V296.50H631.50V428.50" fill="none" stroke="#1a1a1a" stroke-width="1"/>
<rect x="657.50" y="308.50" width="12.00" height="120.00" fill="url(#pchk)"/>
<path d="M657.50,428.50V308.50H669.50V428.50" fill="none" stroke="#1a1a1a" stroke-width="1"/>
<path d="M432.50,367.00V371.50M430.90,367.00H434.10M430.90,371.50H434.10" stroke="#111" stroke-width="1" fill="none"/>
<path d="M470.50,290.00V292.50M468.90,290.00H472.10M468.90,292.50H472.10" stroke="#111" stroke-width="1" fill="none"/>
<path d="M509.50,325.00V329.00M507.90,325.00H511.10M507.90,329.00H511.10" stroke="#111" stroke-width="1" fill="none"/>
<path d="M548.50,340.50V344.00M546.90,340.50H550.10M546.90,344.00H550.10" stroke="#111" stroke-width="1" fill="none"/>
<path d="M586.50,330.50V336.00M584.90,330.50H588.10M584.90,336.00H588.10" stroke="#111" stroke-width="1" fill="none"/>
<path d="M625.50,294.50V298.00M623.90,294.50H627.10M623.90,298.00H627.10" stroke="#111" stroke-width="1" fill="none"/>
<path d="M663.50,307.00V310.00M661.90,307.00H665.10M661.90,310.00H665.10" stroke="#111" stroke-width="1" fill="none"/>
<text transform="translate(431.20,443.20) scale(0.710,1)" font-family='"Liberation Sans", sans-serif' font-size="9.6" font-weight="bold" text-anchor="middle" fill="#141414" >Nomal</text>
<text transform="translate(469.87,443.20) scale(0.710,1)" font-family='"Liberation Sans", sans-serif' font-size="9.6" font-weight="bold" text-anchor="middle" fill="#141414" >NS</text>
<text transform="translate(508.54,443.20) scale(0.710,1)" font-family='"Liberation Sans", sans-serif' font-size="9.6" font-weight="bold" text-anchor="middle" fill="#141414" >PH</text>
<text transform="translate(547.21,443.20) scale(0.710,1)" font-family='"Liberation Sans", sans-serif' font-size="9.6" font-weight="bold" text-anchor="middle" fill="#141414" >BHT</text>
<text transform="translate(585.88,443.20) scale(0.710,1)" font-family='"Liberation Sans", sans-serif' font-size="9.6" font-weight="bold" text-anchor="middle" fill="#141414" >N-BHT</text>
<text transform="translate(624.55,443.20) scale(0.710,1)" font-family='"Liberation Sans", sans-serif' font-size="9.6" font-weight="bold" text-anchor="middle" fill="#141414" >D-BHT</text>
<text transform="translate(663.22,443.20) scale(0.710,1)" font-family='"Liberation Sans", sans-serif' font-size="9.6" font-weight="bold" text-anchor="middle" fill="#141414" >S-BHT</text>
<path d="M470.70,256.20H661.50V259.40" stroke="#333" stroke-width="1" fill="none"/>
<text transform="translate(646.40,258.40) scale(0.800,1)" font-family='"Liberation Serif", serif' font-size="12" font-weight="normal" text-anchor="middle" fill="#333" >*</text>
<path d="M470.70,263.00H624.50V266.20" stroke="#333" stroke-width="1" fill="none"/>
<text transform="translate(613.40,265.20) scale(0.800,1)" font-family='"Liberation Serif", serif' font-size="12" font-weight="normal" text-anchor="middle" fill="#333" >*</text>
<path d="M470.70,269.40H586.50V272.60" stroke="#333" stroke-width="1" fill="none"/>
<text transform="translate(573.50,272.50) scale(0.800,1)" font-family='"Liberation Serif", serif' font-size="12" font-weight="normal" text-anchor="middle" fill="#333" >**</text>
<path d="M470.70,276.50H547.50V279.70" stroke="#333" stroke-width="1" fill="none"/>
<text transform="translate(535.60,279.00) scale(0.800,1)" font-family='"Liberation Serif", serif' font-size="12" font-weight="normal" text-anchor="middle" fill="#333" >**</text>
<path d="M470.70,284.50H509.50V287.70" stroke="#333" stroke-width="1" fill="none"/>
<text transform="translate(498.70,286.70) scale(0.800,1)" font-family='"Liberation Serif", serif' font-size="12" font-weight="normal" text-anchor="middle" fill="#333" >**</text>
<path d="M432.50,273.40V270.40H470.60" stroke="#333" stroke-width="1" fill="none"/>
<text transform="translate(451.60,268.90) scale(0.850,1)" font-family='"Liberation Serif", serif' font-size="8.9" font-weight="bold" text-anchor="middle" fill="#333" >##</text>
<text transform="translate(377.50,332.90) rotate(-90)" font-family='"Liberation Serif", serif' font-size="10.5" font-weight="bold" text-anchor="middle" fill="#000" textLength="152" lengthAdjust="spacingAndGlyphs">The level of  TNF-a   (pg/ml)</text>
<text transform="translate(524.20,472.00)" font-family='"Liberation Serif", serif' font-size="15" font-weight="normal" text-anchor="middle" fill="#000" >(d)</text>
</svg>
</body></html>
